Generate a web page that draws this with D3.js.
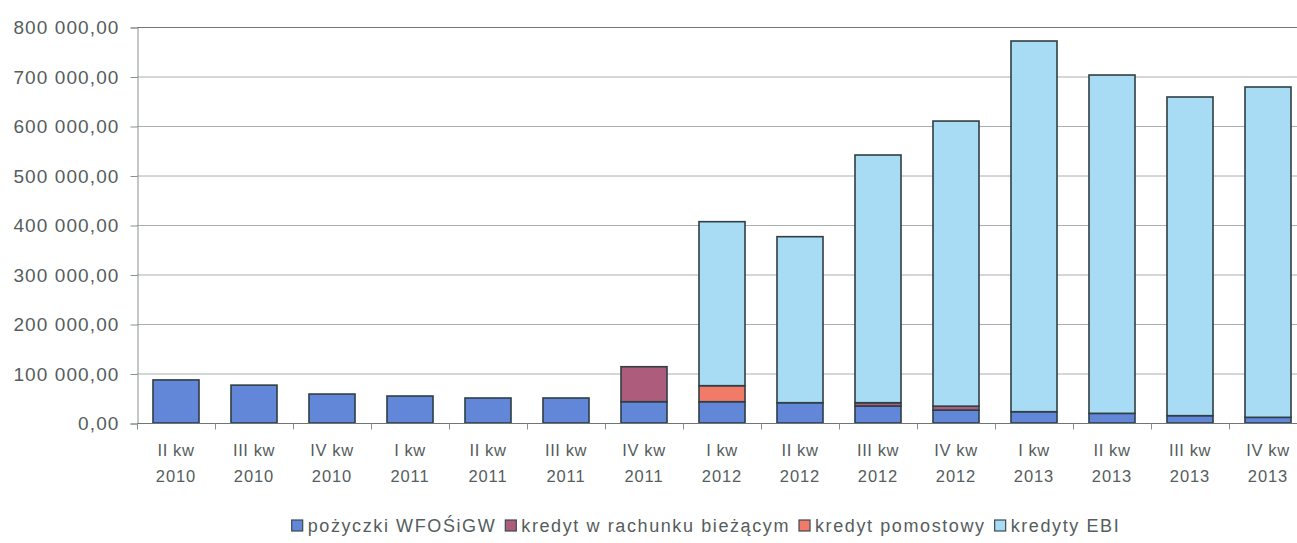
<!DOCTYPE html>
<html>
<head>
<meta charset="utf-8">
<script src="https://cdn.jsdelivr.net/npm/d3@7"></script>
<style>
  html, body { margin: 0; padding: 0; background: #fff; }
  svg { display: block; }
  text { font-family: "Liberation Sans", Arial, sans-serif; }
</style>
</head>
<body>
<div id="chart"></div>
<script>
// Quarters (two-line labels)
const quarters = ["II kw", "III kw", "IV kw", "I kw", "II kw", "III kw", "IV kw",
                  "I kw", "II kw", "III kw", "IV kw", "I kw", "II kw", "III kw", "IV kw"];
const years = ["2010", "2010", "2010", "2011", "2011", "2011", "2011",
               "2012", "2012", "2012", "2012", "2013", "2013", "2013", "2013"];

// Debt components per quarter
const pozyczkiWFOS   = [87000, 76500, 58500, 54500, 50500, 50500, 43000, 43000, 41000, 34300, 26000, 22800, 19500, 14800, 11500];
const kredytRachunek = [0, 0, 0, 0, 0, 0, 70700, 0, 0, 6700, 8000, 0, 0, 0, 0];
const kredytPomost   = [0, 0, 0, 0, 0, 0, 0, 32400, 0, 0, 0, 0, 0, 0, 0];
const kredytyEBI     = [0, 0, 0, 0, 0, 0, 0, 331300, 335400, 500400, 576000, 748900, 683500, 643800, 667300];

const seriesNames  = ["pożyczki WFOŚiGW", "kredyt w rachunku bieżącym", "kredyt pomostowy", "kredyty EBI"];
const seriesColors = ["#6286d8", "#ad5c7c", "#f27a68", "#a8dcf5"];

const yTicks = [0, 100000, 200000, 300000, 400000, 500000, 600000, 700000, 800000];

const W = 1297, H = 543;
const margin = { left: 137, top: 27 };
const plotW = 1170; // plot area runs past the right edge of the page
const plotH = 396;

const svg = d3.select("#chart").append("svg").attr("width", W).attr("height", H);

const rows = quarters.map((q, i) => ({
  idx: i,
  s0: pozyczkiWFOS[i], s1: kredytRachunek[i], s2: kredytPomost[i], s3: kredytyEBI[i]
}));
const layers = d3.stack().keys(["s0", "s1", "s2", "s3"])(rows);

const x = d3.scaleBand().domain(d3.range(quarters.length))
  .range([margin.left, margin.left + plotW]).paddingInner(0.41).paddingOuter(0.205);
const y = d3.scaleLinear().domain([0, 800000]).range([margin.top + plotH, margin.top]);

const loc = d3.formatLocale({ decimal: ",", thousands: " ", grouping: [3], currency: ["", ""] });
const fmt = loc.format(",.2f");

const textCol = "#555d5d";

// Gridlines
svg.append("g").selectAll("line").data(yTicks.slice(1)).join("line")
  .attr("x1", margin.left).attr("x2", margin.left + plotW)
  .attr("y1", d => y(d) + 0.5).attr("y2", d => y(d) + 0.5)
  .attr("stroke", d => d === 800000 ? "#6e7676" : "#a9b0b0").attr("stroke-width", 1);

// Y axis
const yAxis = d3.axisLeft(y).tickValues(yTicks).tickFormat(fmt).tickSize(7).tickPadding(11);
const gy = svg.append("g").attr("transform", `translate(${margin.left + 0.5},0.5)`).call(yAxis);
gy.select(".domain").attr("stroke", "#8a9090");
gy.selectAll(".tick line").attr("stroke", "#8a9090");
gy.selectAll(".tick text").attr("fill", textCol).attr("font-size", 19)
  .attr("letter-spacing", "1.1px")
  .attr("font-family", "'Liberation Sans', Arial, sans-serif");

// Bars
const g = svg.append("g");
layers.forEach((layer, k) => {
  g.append("g").selectAll("rect").data(layer.filter(d => d[1] - d[0] > 0)).join("rect")
    .attr("x", d => x(d.data.idx))
    .attr("width", x.bandwidth())
    .attr("y", d => y(d[1]))
    .attr("height", d => y(d[0]) - y(d[1]))
    .attr("fill", seriesColors[k])
    .attr("stroke", "#2f3f44").attr("stroke-width", 1.6);
});

// X axis line and category boundary ticks
const x0 = y(0) + 0.5;
svg.append("line").attr("x1", margin.left).attr("x2", margin.left + plotW)
  .attr("y1", x0).attr("y2", x0).attr("stroke", "#6e7676").attr("stroke-width", 1.2);
svg.append("g").selectAll("line").data(d3.range(quarters.length + 1)).join("line")
  .attr("x1", i => margin.left + i * plotW / quarters.length + 0.5)
  .attr("x2", i => margin.left + i * plotW / quarters.length + 0.5)
  .attr("y1", x0).attr("y2", x0 + 6).attr("stroke", "#8a9090");

// Category labels
const lab = svg.append("g").selectAll("g").data(d3.range(quarters.length)).join("g")
  .attr("transform", i => `translate(${x(i) + x.bandwidth() / 2},0)`);
lab.append("text").attr("y", 456).attr("text-anchor", "middle").attr("font-size", 16.5)
  .attr("letter-spacing", "0.6px").attr("fill", textCol).text(i => quarters[i]);
lab.append("text").attr("y", 482).attr("text-anchor", "middle").attr("font-size", 16.5)
  .attr("letter-spacing", "0.9px").attr("fill", textCol).text(i => years[i]);

// Legend
const leg = svg.append("g");
let cx = 0;
seriesNames.forEach((name, k) => {
  const it = leg.append("g").attr("transform", `translate(${cx},0)`);
  it.append("rect").attr("x", 0).attr("y", -12).attr("width", 11).attr("height", 11)
    .attr("fill", seriesColors[k]).attr("stroke", "#3a4a50").attr("stroke-width", 1.2);
  const t = it.append("text").attr("x", 16).attr("y", 0).attr("font-size", 18)
    .attr("letter-spacing", "1.6px").attr("fill", textCol).text(name);
  cx += 16 + t.node().getComputedTextLength() + 9;
});
leg.attr("transform", `translate(${706 - (cx - 9) / 2},532)`);
</script>
</body>
</html>
